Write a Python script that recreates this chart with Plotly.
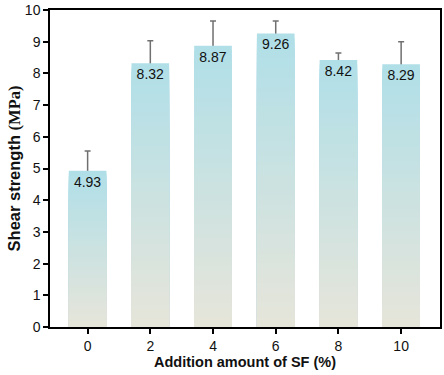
import plotly.graph_objects as go

categories = ["0", "2", "4", "6", "8", "10"]
strength = [4.93, 8.32, 8.87, 9.26, 8.42, 8.29]
errors = [0.62, 0.71, 0.78, 0.39, 0.22, 0.71]
labels = ["4.93", "8.32", "8.87", "9.26", "8.42", "8.29"]

top_rgb = (176, 223, 232)
bottom_rgb = (230, 229, 218)
N = 60

fig = go.Figure()
# error bars drawn first, lower part hidden by the bars
fig.add_trace(go.Bar(
    x=categories, y=strength, width=0.6,
    marker=dict(color="rgba(0,0,0,0)", line=dict(width=0)),
    error_y=dict(type="data", array=errors, arrayminus=strength,
                 symmetric=False, color="#707070", thickness=1.5, width=3),
    hoverinfo="skip", showlegend=False,
))
for k in range(N):
    frac = (N - k) / N
    t = (N - 1 - k) / (N - 1)
    c = tuple(round(bottom_rgb[i] + (top_rgb[i] - bottom_rgb[i]) * t) for i in range(3))
    fig.add_trace(go.Bar(
        x=categories, y=[v * frac for v in strength], width=0.6,
        marker=dict(color="rgb(%d,%d,%d)" % c, line=dict(width=0)),
        hoverinfo="skip", showlegend=False,
    ))

fig.add_trace(go.Bar(
    x=categories, y=strength, width=0.6,
    marker=dict(color="rgba(0,0,0,0)", line=dict(width=0)),
    text=labels, textposition="inside", insidetextanchor="end",
    constraintext="none",
    insidetextfont=dict(family="Arial, Liberation Sans", size=14, color="#111"),
    showlegend=False,
))

fig.update_layout(
    barmode="overlay",
    width=444, height=375,
    margin=dict(l=50, r=2, t=10, b=48),
    plot_bgcolor="white", paper_bgcolor="white",
    font=dict(family="Arial, Liberation Sans", size=14, color="#111"),
    xaxis=dict(
        type="category", range=[-0.6, 5.62],
        showline=True, linecolor="black", linewidth=1.5, mirror=True,
        ticks="outside", ticklen=5, tickwidth=1.5, tickcolor="black",
        tickfont=dict(size=14, color="#111"),
        title=dict(text="<b>Addition amount of SF (%)</b>", font=dict(size=14.5, color="#111"), standoff=4),
        showgrid=False,
    ),
    yaxis=dict(
        range=[0, 10], dtick=1,
        showline=True, linecolor="black", linewidth=1.5, mirror=True,
        ticks="outside", ticklen=5, tickwidth=1.5, tickcolor="black",
        tickfont=dict(size=14, color="#111"),
        title=dict(text="<b>Shear strength <span style=\"font-family:Liberation Serif\">(MPa)</span></b>",
                   font=dict(size=16.5, color="#111"), standoff=0),
        showgrid=False, zeroline=False,
    ),
)

fig.write_html("out.html", config={"displayModeBar": False},
               post_script="document.body.style.margin='0';")
